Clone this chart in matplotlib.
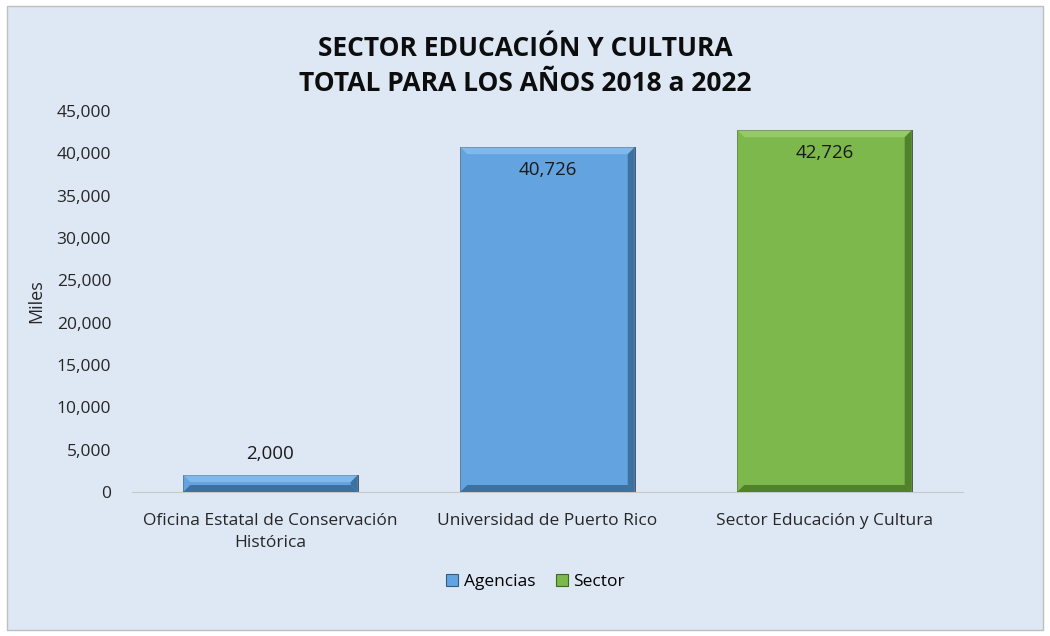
import matplotlib.pyplot as plt
from matplotlib.patches import Polygon, Rectangle
from matplotlib.ticker import FuncFormatter

# Datos
categorias = ["Oficina Estatal de Conservación\nHistórica", "Universidad de Puerto Rico", "Sector Educación y Cultura"]
valores = [2000, 40726, 42726]
series = ["Agencias", "Agencias", "Sector"]

colores = {"Agencias": "#63A4E0", "Sector": "#7CB84C"}
claros = {"Agencias": "#8CC2F0", "Sector": "#A2D374"}
oscuros = {"Agencias": "#2E5C86", "Sector": "#3E6A1E"}

plt.rcParams['font.family'] = ['Open Sans', 'DejaVu Sans']

fig = plt.figure(figsize=(10.5, 6.36), dpi=100)
fig.patch.set_facecolor("white")
fig.add_artist(Rectangle((7 / 1050, 6 / 636), 1036 / 1050, 624 / 636, transform=fig.transFigure,
                         facecolor="#DEE8F4", edgecolor="#BFBFBF", linewidth=1, zorder=-10))

ax = fig.add_axes([0.1257, 0.2264, 0.7914, 0.5991])
ax.set_facecolor("none")

x = range(len(categorias))
bars = ax.bar(x, valores, width=0.63, color=[colores[s] for s in series],
              edgecolor="#444444", linewidth=0.6, zorder=2)

ax.set_ylim(0, 45000)
ax.set_xlim(-0.5, 2.5)
ax.set_yticks(range(0, 45001, 5000))
ax.yaxis.set_major_formatter(FuncFormatter(lambda v, p: f"{int(v):,}"))
ax.set_xticks(list(x))
ax.set_xticklabels(categorias, fontsize=12.5, color="#262626", linespacing=1.55)
ax.tick_params(axis="y", labelsize=12.5, labelcolor="#262626", length=0, pad=15)
ax.tick_params(axis="x", length=0, pad=15)
for s in ["top", "right", "left"]:
    ax.spines[s].set_visible(False)
ax.spines["bottom"].set_color("#C8C8C8")
ax.set_ylabel("Miles", fontsize=13, color="#262626", labelpad=8)

fig.canvas.draw()
bev = 7  # px
for b, s in zip(bars, series):
    x0, y0 = ax.transData.transform((b.get_x(), 0))
    x1, y1 = ax.transData.transform((b.get_x() + b.get_width(), b.get_height()))
    inv = ax.transData.inverted()
    d = min(bev, (y1 - y0) / 2)
    pts = {
        "top": [(x0, y1), (x1, y1), (x1 - d, y1 - d), (x0 + d, y1 - d)],
        "left": [(x0, y0), (x0 + d, y0 + d), (x0 + d, y1 - d), (x0, y1)],
        "right": [(x1, y0), (x1 - d, y0 + d), (x1 - d, y1 - d), (x1, y1)],
        "bottom": [(x0, y0), (x1, y0), (x1 - d, y0 + d), (x0 + d, y0 + d)],
    }
    cols = {"top": claros[s], "left": colores[s], "right": oscuros[s], "bottom": oscuros[s]}
    for k, p in pts.items():
        ax.add_patch(Polygon([inv.transform(q) for q in p], closed=True, facecolor=cols[k],
                             edgecolor="none", alpha=0.7, zorder=3))

for b, v in zip(bars, valores):
    xc = b.get_x() + b.get_width() / 2
    if v > 10000:
        ax.text(xc, v - 2700, f"{v:,}", ha="center", va="center", fontsize=13.5, color="#1a1a1a", zorder=4)
    else:
        ax.text(xc, v + 2500, f"{v:,}", ha="center", va="center", fontsize=13.5, color="#1a1a1a", zorder=4)

fig.text(0.5, 0.896, "SECTOR EDUCACIÓN Y CULTURA\nTOTAL PARA LOS AÑOS 2018 a 2022", ha="center", va="center",
         fontsize=19, fontweight="bold", color="#0d0d0d", linespacing=1.4)

handles = [Rectangle((0, 0), 1, 1, facecolor=colores[k], edgecolor=oscuros[k], linewidth=0.8)
           for k in ["Agencias", "Sector"]]
fig.legend(handles, ["Agencias", "Sector"], loc="center", bbox_to_anchor=(0.51, 0.085), ncol=2,
           frameon=False, fontsize=12.5, handlelength=0.7, handleheight=0.7, handletextpad=0.3,
           columnspacing=1.2)

fig.savefig("out.png", dpi=100, facecolor=fig.get_facecolor())
